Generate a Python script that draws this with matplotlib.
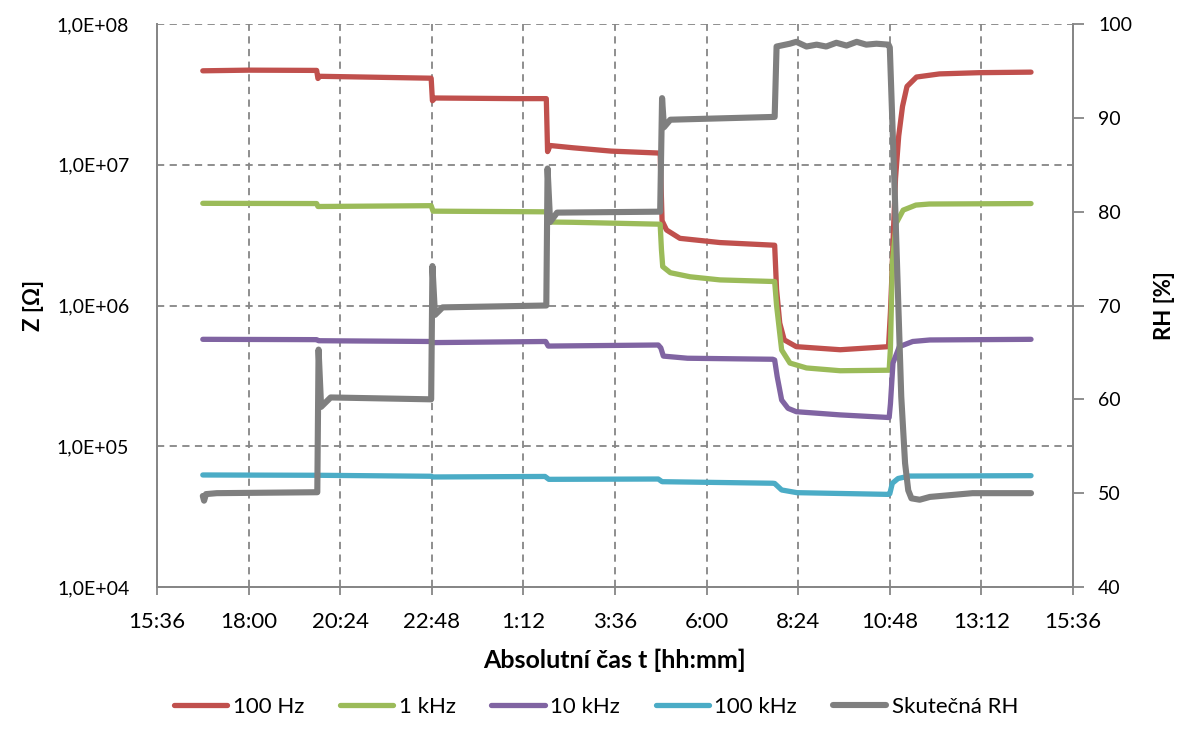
import numpy as np
import matplotlib
matplotlib.use("Agg")
import matplotlib.pyplot as plt
from matplotlib.ticker import FixedLocator, FuncFormatter, NullLocator

plt.rcParams['font.family'] = ['Lato', 'DejaVu Sans']

# measured impedance (Ohm) at four frequencies and reference RH (%), clock time hh:mm
t_100hz = ["16:48", "18:00", "19:47", "19:49", "19:52", "21:00", "22:47", "22:49", "22:53",
           "1:00", "1:48", "1:50", "1:54", "2:30", "3:30", "4:47", "4:50", "4:57", "5:18",
           "6:21", "7:47", "7:50", "7:55", "8:02", "8:21", "9:30", "10:46", "10:49", "10:51",
           "10:53", "10:57", "11:02", "11:08", "11:15", "11:30", "12:06", "13:09", "14:30"]
z_100hz = [4.65e7, 4.7e7, 4.68e7, 4.1e7, 4.25e7, 4.2e7, 4.12e7, 2.85e7, 2.98e7,
           2.95e7, 2.95e7, 1.24e7, 1.37e7, 1.32e7, 1.25e7, 1.21e7, 4.0e6, 3.44e6, 3.0e6,
           2.8e6, 2.68e6, 1.3e6, 7.5e5, 5.7e5, 5.1e5, 4.85e5, 5.1e5, 9e5, 1.5e6,
           2.8e6, 8e6, 1.6e7, 2.6e7, 3.6e7, 4.2e7, 4.42e7, 4.51e7, 4.55e7]

t_1khz = ["16:48", "19:47", "19:49", "22:47", "22:50", "1:48", "1:50", "2:30", "4:47",
          "4:49", "4:51", "5:03", "5:34", "6:21", "7:47", "7:50", "7:58", "8:11", "8:37",
          "9:30", "10:47", "10:49", "10:52", "10:58", "11:09", "11:29", "11:50", "14:30"]
z_1khz = [5.32e6, 5.3e6, 5.05e6, 5.12e6, 4.68e6, 4.63e6, 3.92e6, 3.9e6, 3.78e6,
          2.5e6, 1.89e6, 1.71e6, 1.6e6, 1.52e6, 1.48e6, 1.0e6, 4.83e5, 3.9e5, 3.6e5,
          3.44e5, 3.47e5, 5e5, 2.0e6, 3.84e6, 4.76e6, 5.17e6, 5.26e6, 5.3e6]

t_10khz = ["16:48", "19:47", "19:50", "22:47", "22:50", "1:47", "1:51", "4:44", "4:48",
           "4:52", "5:30", "7:44", "7:47", "7:51", "7:58", "8:08", "8:21", "9:30", "10:47",
           "10:49", "10:53", "11:03", "11:24", "11:51", "14:30"]
z_10khz = [5.75e5, 5.72e5, 5.62e5, 5.55e5, 5.45e5, 5.55e5, 5.15e5, 5.24e5, 5.0e5,
           4.37e5, 4.22e5, 4.15e5, 4.1e5, 3.12e5, 2.13e5, 1.86e5, 1.76e5, 1.67e5, 1.6e5,
           2.0e5, 3.9e5, 5.1e5, 5.55e5, 5.69e5, 5.75e5]

t_100khz = ["16:48", "19:48", "22:47", "22:50", "1:46", "1:52", "4:44", "4:50", "7:44",
            "7:47", "7:58", "8:22", "10:46", "10:48", "10:52", "11:01", "11:19", "14:30"]
z_100khz = [6.25e4, 6.22e4, 6.12e4, 6.05e4, 6.1e4, 5.82e4, 5.85e4, 5.6e4, 5.46e4,
            5.44e4, 4.89e4, 4.68e4, 4.55e4, 4.6e4, 5.46e4, 5.9e4, 6.14e4, 6.18e4]

t_rh = ["16:48", "16:50", "16:53", "17:10", "19:48", "19:50", "19:54", "20:09", "22:47",
        "22:49", "22:53", "23:05", "1:48", "1:50", "1:54", "2:05", "4:47", "4:50", "4:53",
        "5:03", "7:47", "7:50", "8:11", "8:21", "8:37", "8:53", "9:08", "9:24", "9:40",
        "9:56", "10:11", "10:27", "10:46", "10:48", "10:56", "11:01", "11:06", "11:12",
        "11:17", "11:22", "11:35", "11:51", "12:58", "14:30"]
rh = [49.7, 49.2, 49.9, 50.0, 50.1, 65.3, 59.2, 60.2, 60.0,
      74.2, 69.0, 69.8, 70.0, 84.6, 78.9, 79.9, 80.0, 92.1, 89.0,
      89.8, 90.1, 97.6, 97.9, 98.1, 97.6, 97.8, 97.6, 98.0, 97.7,
      98.1, 97.8, 97.9, 97.8, 97.5, 81.6, 70.9, 60.3, 53.2,
      50.3, 49.45, 49.3, 49.6, 50.0, 50.0]

x_ticks_days = [0.65 + 0.1 * k for k in range(11)]


def to_days(times):
    # the run starts at 15:36, anything earlier on the clock is the next day
    out = []
    for s in times:
        h, m = map(int, s.split(":"))
        d = (h * 60 + m) / 1440
        if h < 15:
            d += 1
        out.append(d)
    return out


def fmt_clock(x, pos):
    m = int(round(x * 1440)) % 1440
    return f"{m // 60}:{m % 60:02d}"


def fmt_sci(v, pos):
    return f"1,0E+{int(round(np.log10(v))):02d}"


grey = "#868686"
fig = plt.figure(figsize=(11.92, 7.45), dpi=100)
ax = fig.add_axes([157 / 1192, 1 - 587 / 745, (1073 - 157) / 1192, (587 - 24) / 745])
ax2 = ax.twinx()

lw = 3.8
l1, = ax.plot(to_days(t_100hz), z_100hz, color="#C0504D", lw=lw, label="100 Hz", solid_capstyle="round")
l2, = ax.plot(to_days(t_1khz), z_1khz, color="#9BBB59", lw=lw, label="1 kHz", solid_capstyle="round")
l3, = ax.plot(to_days(t_10khz), z_10khz, color="#8064A2", lw=lw, label="10 kHz", solid_capstyle="round")
l4, = ax.plot(to_days(t_100khz), z_100khz, color="#4BACC6", lw=lw, label="100 kHz", solid_capstyle="round")
l5, = ax2.plot(to_days(t_rh), rh, color="#7F7F7F", lw=4.4, label="Skutečná RH", solid_capstyle="round")

ax.set_yscale("log")
ax.set_ylim(1e4, 1e8)
ax.yaxis.set_major_locator(FixedLocator([1e4, 1e5, 1e6, 1e7, 1e8]))
ax.yaxis.set_minor_locator(NullLocator())
ax.yaxis.set_major_formatter(FuncFormatter(fmt_sci))
ax.set_xlim(0.65, 1.65)
ax.xaxis.set_major_locator(FixedLocator(x_ticks_days))
ax.xaxis.set_major_formatter(FuncFormatter(fmt_clock))

ax2.set_ylim(40, 100)
ax2.set_yticks(range(40, 101, 10))

ax.grid(True, which="major", color=grey, ls=(0, (4, 3)), lw=1.3)
ax.set_axisbelow(True)

for a in (ax, ax2):
    a.spines["top"].set_visible(False)
    for side in ("left", "right", "bottom"):
        a.spines[side].set_color(grey)
        a.spines[side].set_linewidth(1.3)

ax.tick_params(axis="y", length=0, pad=20, labelsize=14, colors="black")
ax.tick_params(axis="x", length=6, width=1.3, color=grey, pad=12, labelsize=16)
ax2.tick_params(axis="y", length=8, width=1.3, color=grey, pad=10, labelsize=14)

ax.set_xlabel("Absolutní čas t [hh:mm]", fontsize=18, fontweight="bold", labelpad=12)
ax.set_ylabel("Z [Ω]", fontsize=16, fontweight="bold", labelpad=9)
ax2.set_ylabel("RH [%]", fontsize=16, fontweight="bold", labelpad=16)

fig.legend(handles=[l1, l2, l3, l4, l5], loc="center", bbox_to_anchor=(0.5, 1 - 707 / 745),
           ncol=5, frameon=False, fontsize=16, handlelength=2.4, handletextpad=0.25,
           columnspacing=1.6)

fig.savefig("out.png", dpi=100)
